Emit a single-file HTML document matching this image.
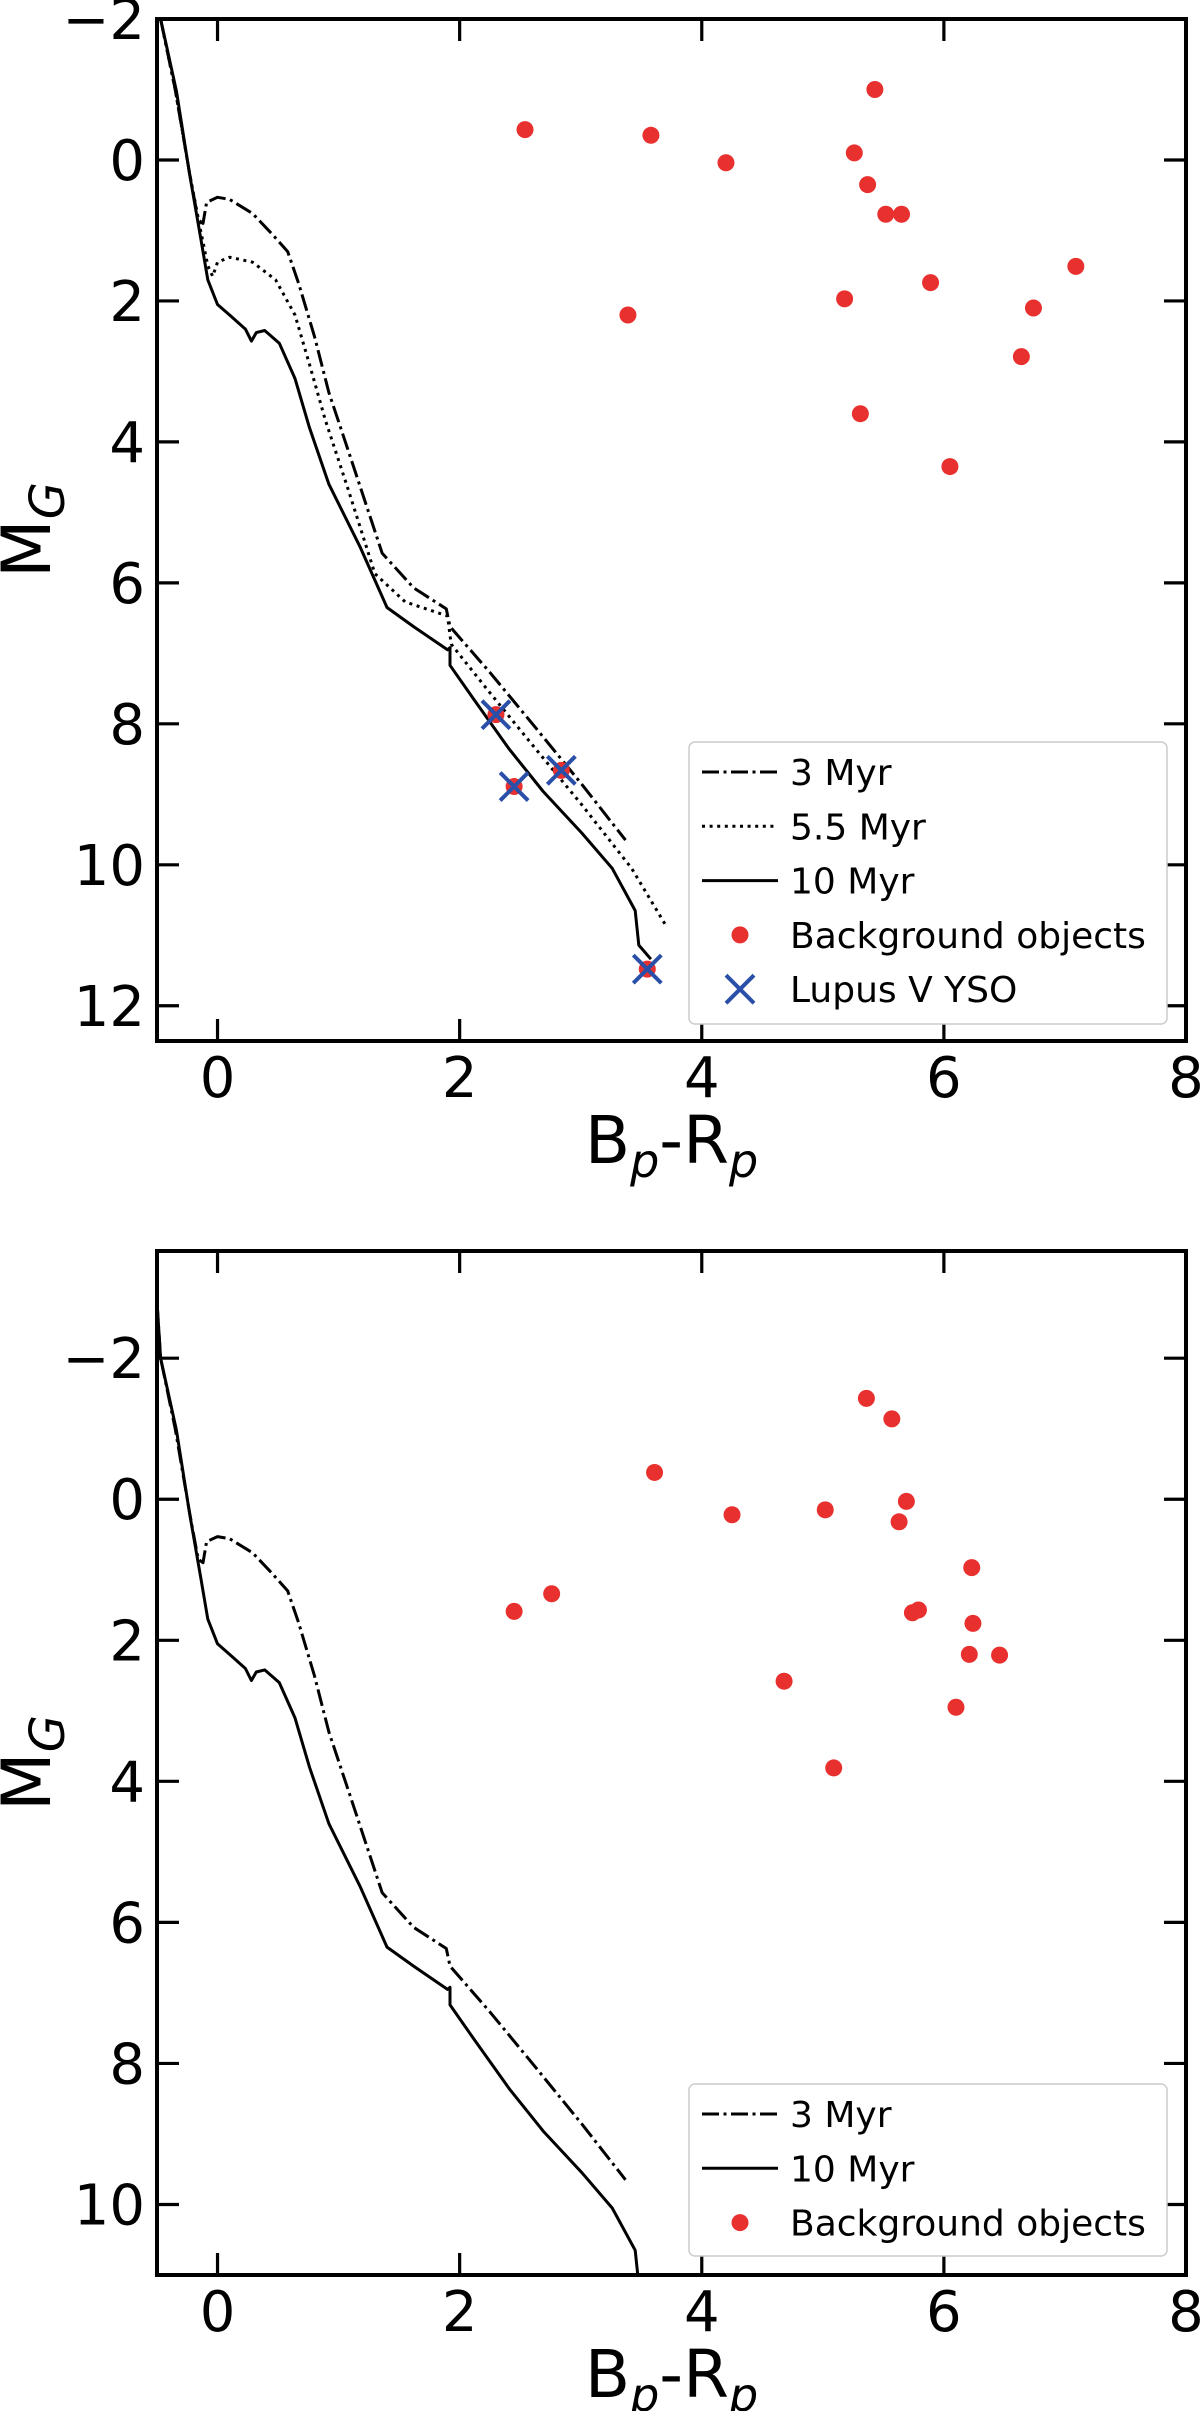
<!DOCTYPE html>
<html><head><meta charset="utf-8"><style>
html,body{margin:0;padding:0;background:#fff;}
svg{display:block;font-family:"DejaVu Sans","Liberation Sans",sans-serif;}
</style></head><body>
<svg id="fig" width="1200" height="2411" viewBox="0 0 1200 2411" xmlns="http://www.w3.org/2000/svg"></svg>
<script>
// ---- data ----
const xTicks = [0, 2, 4, 6, 8];
const yTicksTop = [-2, 0, 2, 4, 6, 8, 10, 12];
const yTicksBottom = [-2, 0, 2, 4, 6, 8, 10];
const iso3X = [-0.53,-0.47,-0.35,-0.23,-0.16,-0.12,-0.09,0,0.1,0.29,0.45,0.58,0.67,0.8,0.92,1.11,1.36,1.62,1.89,1.92,2.25,2.63,3.01,3.37];
const iso3Y = [-3.6,-2.0,-1.0,0.2,0.85,0.9,0.6,0.53,0.56,0.76,1.05,1.3,1.75,2.5,3.3,4.28,5.58,6.07,6.37,6.62,7.27,8.06,8.86,9.65];
const iso55X = [-0.53,-0.47,-0.35,-0.23,-0.14,-0.08,-0.04,0,0.1,0.29,0.48,0.64,0.76,0.89,1.08,1.3,1.55,1.9,1.93,2.25,2.63,3.01,3.42,3.70];
const iso55Y = [-3.6,-2.0,-1.0,0.2,1.0,1.5,1.65,1.45,1.38,1.45,1.7,2.2,2.9,3.69,4.68,5.87,6.27,6.47,6.87,7.56,8.36,9.15,10.05,10.85];
const iso10X = [-0.53,-0.47,-0.34,-0.23,-0.14,-0.08,0,0.10,0.23,0.28,0.32,0.39,0.51,0.64,0.76,0.92,1.18,1.40,1.62,1.90,1.92,1.92,2.12,2.41,2.69,3.01,3.26,3.45,3.48,3.58];
const iso10Y = [-3.6,-2.0,-0.98,0.21,1.1,1.7,2.05,2.2,2.4,2.57,2.45,2.42,2.6,3.1,3.8,4.6,5.5,6.35,6.62,6.95,6.92,7.17,7.66,8.36,8.96,9.55,10.05,10.65,11.14,11.34];
const bgTopX = [2.54,3.58,4.20,5.43,5.26,5.37,5.52,5.65,5.18,5.89,7.09,6.74,3.39,6.64,5.31,6.05,2.30,2.45,2.84,3.55];
const bgTopY = [-0.43,-0.35,0.04,-1.00,-0.10,0.35,0.77,0.77,1.97,1.74,1.51,2.10,2.20,2.79,3.60,4.35,7.87,8.89,8.66,11.48];
const ysoX = [2.30,2.45,2.84,3.55];
const ysoY = [7.87,8.89,8.66,11.48];
const bgBotX = [5.36,5.57,3.61,4.25,5.02,5.69,5.63,6.23,2.45,2.76,5.74,5.79,6.24,6.21,6.46,4.68,6.10,5.09];
const bgBotY = [-1.43,-1.14,-0.38,0.22,0.15,0.03,0.32,0.97,1.59,1.34,1.61,1.57,1.76,2.20,2.21,2.58,2.95,3.81];

const NS = "http://www.w3.org/2000/svg";
const svg = document.getElementById('fig');
function mk(tag, attrs, parent){ const e=document.createElementNS(NS,tag); for(const k in attrs) e.setAttribute(k,attrs[k]); (parent||svg).appendChild(e); return e; }

function drawPanel(cfg){
  const L=157, R=1186, T=cfg.top, B=cfg.bottom;
  const g = mk('g',{});
  
  
  const sx = v => L + (v - (-0.5)) / 8.5 * (R - L);
  const sy = v => T + (v - cfg.ymin) / (cfg.ymax - cfg.ymin) * (B - T);
  const cid = cfg.name + '-clip';
  const defs = mk('defs',{},g);
  const cp = mk('clipPath',{id:cid},defs);
  mk('rect',{x:L,y:T,width:R-L,height:B-T},cp);
  const plot = mk('g',{'clip-path':'url(#'+cid+')'},g);
  function line(xs, ys, dash, nm){
    let d=''; for(let i=0;i<xs.length;i++) d += (i?'L':'M') + sx(xs[i]).toFixed(1) + ',' + sy(ys[i]).toFixed(1);
    const p = mk('path',{d:d,fill:'none',stroke:'#000','stroke-width':3,'stroke-dasharray':dash||'none','stroke-linejoin':'round'},plot);
    
    
  }
  line(iso3X, iso3Y, '17,4.5,3,4.5', 'isochrone-3myr');
  if(cfg.showIso55) line(iso55X, iso55Y, '3,4.6', 'isochrone-5-5myr');
  line(iso10X, iso10Y, null, 'isochrone-10myr');
  for(let i=0;i<cfg.bgX.length;i++){
    const c = mk('circle',{cx:sx(cfg.bgX[i]),cy:sy(cfg.bgY[i]),r:8.5,fill:'#e8312f'},plot);
    
    
  }
  if(cfg.yso){
    for(let i=0;i<ysoX.length;i++){
      const x=sx(ysoX[i]), y=sy(ysoY[i]), h=14;
      const p = mk('path',{d:`M${x-h},${y-h}L${x+h},${y+h}M${x-h},${y+h}L${x+h},${y-h}`,stroke:'#2a4fa8','stroke-width':4,fill:'none'},plot);
      
      
    }
  }
  const tl=22;
  xTicks.forEach(v=>{
    const x=sx(v);
    mk('path',{d:`M${x},${B}V${B-tl}M${x},${T}V${T+tl}`,stroke:'#000','stroke-width':3.2},g);
    const t = mk('text',{x:x,y:B+56,'text-anchor':'middle','font-size':56},g);
    t.textContent = v;
    
    
  });
  cfg.yTicks.forEach(v=>{
    const y=sy(v);
    mk('path',{d:`M${L},${y}H${L+tl}M${R},${y}H${R-tl}`,stroke:'#000','stroke-width':3.2},g);
    const t = mk('text',{x:L-12,y:y+20,'text-anchor':'end','font-size':56},g);
    t.textContent = v<0 ? '\u2212'+Math.abs(v) : v;
    
    
  });
  mk('rect',{x:L,y:T,width:R-L,height:B-T,fill:'none',stroke:'#000','stroke-width':4},g);
  const xl = mk('text',{x:(L+R)/2,y:B+122,'text-anchor':'middle','font-size':66},g);
  xl.innerHTML = 'B<tspan font-size="46" dy="14" font-style="italic">p</tspan><tspan dy="-14">-R</tspan><tspan font-size="46" dy="14" font-style="italic">p</tspan>';
  
  
  const yc=(T+B)/2;
  const yl = mk('text',{x:0,y:0,'text-anchor':'middle','font-size':68,transform:`translate(50,${yc}) rotate(-90)`},g);
  yl.innerHTML = 'M<tspan font-size="48" dy="14" font-style="italic">G</tspan>';
  
  
  const lg = mk('g',{},g);
  
  
  mk('rect',{x:689,y:cfg.legTop,width:478,height:cfg.legH,rx:6,fill:'#fff',stroke:'#cccccc','stroke-width':1.5},lg);
  cfg.legend.forEach((e,i)=>{
    const y = cfg.legY0 + i*54.3;
    if(e.type==='circle') mk('circle',{cx:740,cy:y,r:8.5,fill:'#e8312f'},lg);
    else if(e.type==='x') mk('path',{d:`M726,${y-14}L754,${y+14}M726,${y+14}L754,${y-14}`,stroke:'#2a4fa8','stroke-width':4},lg);
    else mk('path',{d:`M702,${y}H778`,stroke:'#000','stroke-width':3,'stroke-dasharray':e.dash||'none'},lg);
    const t = mk('text',{x:790,y:y+13,'font-size':36},lg);
    t.textContent = e.label;
    
    
  });
}

drawPanel({name:'top-panel', top:19, bottom:1041, ymin:-2, ymax:12.5, yTicks:yTicksTop,
  bgX:bgTopX, bgY:bgTopY, yso:true, showIso55:true, legTop:742, legH:282, legY0:772,
  legend:[{label:'3 Myr',dash:'17,4.5,3,4.5'},{label:'5.5 Myr',dash:'3,4.6'},{label:'10 Myr'},{label:'Background objects',type:'circle'},{label:'Lupus V YSO',type:'x'}]});
drawPanel({name:'bottom-panel', top:1251, bottom:2275, ymin:-3.52, ymax:11, yTicks:yTicksBottom,
  bgX:bgBotX, bgY:bgBotY, yso:false, showIso55:false, legTop:2084, legH:172, legY0:2114,
  legend:[{label:'3 Myr',dash:'17,4.5,3,4.5'},{label:'10 Myr'},{label:'Background objects',type:'circle'}]});
</script>
</body></html>
